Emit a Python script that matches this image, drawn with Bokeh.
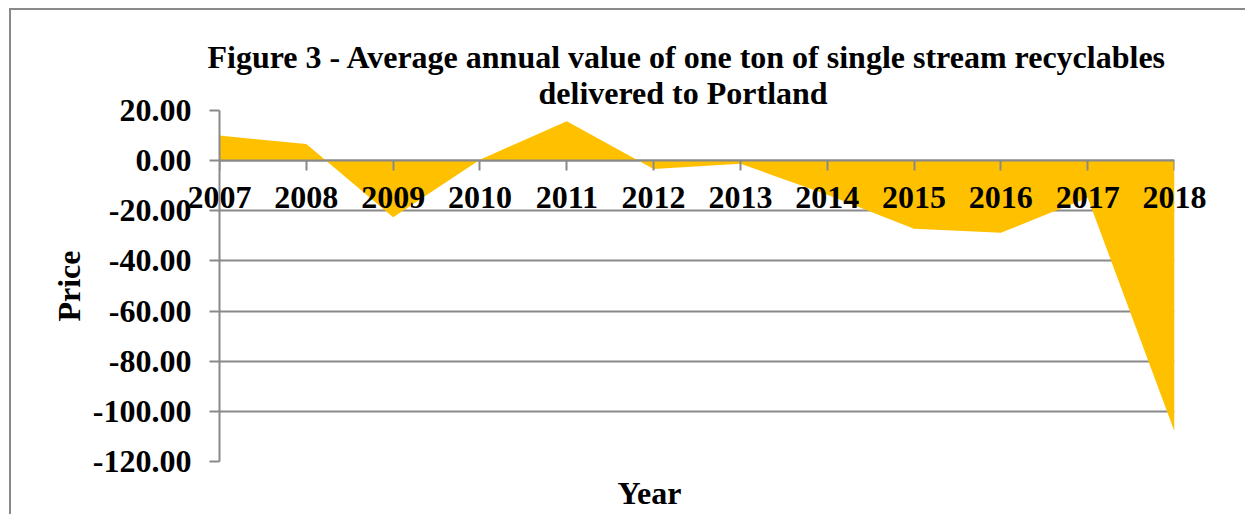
from bokeh.plotting import figure
from bokeh.models import (FixedTicker, NumeralTickFormatter, Range1d, Title, LinearAxis,
                          ColumnDataSource)
from bokeh.embed import file_html
from bokeh.resources import INLINE

years = [2007, 2008, 2009, 2010, 2011, 2012, 2013, 2014, 2015, 2016, 2017, 2018]
prices = [10.0, 6.6, -22.6, 0.4, 15.7, -3.3, -1.2, -13.6, -27.2, -28.8, -14.8, -108.0]
y_ticks = [20, 0, -20, -40, -60, -80, -100, -120]

FONT = "Liberation Serif"
GRAY = "#898989"
FILL = "#FFC000"
FS = "32px"

src = ColumnDataSource(dict(year=years, price=prices, zero=[0] * len(years)))

p = figure(width=1236, height=512, output_backend="svg", toolbar_location=None,
           x_range=Range1d(2007, 2018), y_range=Range1d(-120, 20),
           x_axis_location=None, y_axis_location=None,
           min_border_left=208, min_border_right=73, min_border_top=100, min_border_bottom=60)
p.styles = {"border-top": "2px solid " + GRAY, "border-left": "2px solid " + GRAY,
            "margin-left": "9px", "margin-top": "8px"}
p.outline_line_color = None
p.background_fill_color = "white"
p.border_fill_color = "white"

p.varea(x="year", y1="zero", y2="price", source=src, fill_color=FILL)

# two-line title
p.title = Title(text="Figure 3 - Average annual value of one ton of single stream recyclables",
                align="left", text_font=FONT, text_font_size=FS, text_font_style="bold",
                text_color="black", offset=-12, standoff=-4)
p.add_layout(Title(text="delivered to Portland", align="left", text_font=FONT,
                   text_font_size=FS, text_font_style="bold", text_color="black",
                   offset=319, standoff=0), "above")

# y axis
yax = LinearAxis(ticker=FixedTicker(ticks=y_ticks), formatter=NumeralTickFormatter(format="0.00"),
                 axis_label="Price")
yax.axis_line_color = GRAY
yax.axis_line_width = 2
yax.major_tick_line_color = GRAY
yax.major_tick_line_width = 2
yax.major_tick_out = 10
yax.major_tick_in = 0
yax.minor_tick_line_color = None
yax.major_label_standoff = 18
yax.major_label_text_font = FONT
yax.major_label_text_font_size = FS
yax.major_label_text_font_style = "bold"
yax.major_label_text_color = "black"
yax.axis_label_text_font = FONT
yax.axis_label_text_font_size = FS
yax.axis_label_text_font_style = "bold"
yax.axis_label_text_color = "black"
yax.axis_label_standoff = 3
p.add_layout(yax, "left")

# x axis line and ticks crossing at zero
xax = LinearAxis(ticker=FixedTicker(ticks=years), fixed_location=0,
                 major_label_overrides={y: "" for y in years})
xax.axis_line_color = GRAY
xax.axis_line_width = 2
xax.major_tick_line_color = GRAY
xax.major_tick_line_width = 2
xax.major_tick_out = 10
xax.major_tick_in = 0
xax.minor_tick_line_color = None
p.add_layout(xax, "below")

# x axis title (closest to the frame)
p.add_layout(Title(text="Year", align="left", text_font=FONT, text_font_size=FS,
                   text_font_style="bold", text_color="black", standoff=23, offset=398), "below")

# year tick labels, pulled up next to the zero line (not clipped)
lax = LinearAxis(ticker=FixedTicker(ticks=years), formatter=NumeralTickFormatter(format="0"))
lax.axis_line_color = None
lax.major_tick_line_color = None
lax.minor_tick_line_color = None
lax.major_tick_out = 0
lax.major_tick_in = 0
lax.major_label_standoff = -336
lax.major_label_text_font = FONT
lax.major_label_text_font_size = FS
lax.major_label_text_font_style = "bold"
lax.major_label_text_color = "black"
p.add_layout(lax, "below")

p.xgrid.visible = False
p.ygrid.ticker = FixedTicker(ticks=y_ticks)
p.ygrid.grid_line_color = GRAY
p.ygrid.grid_line_width = 2

open("out.html", "w").write(file_html(p, INLINE))
